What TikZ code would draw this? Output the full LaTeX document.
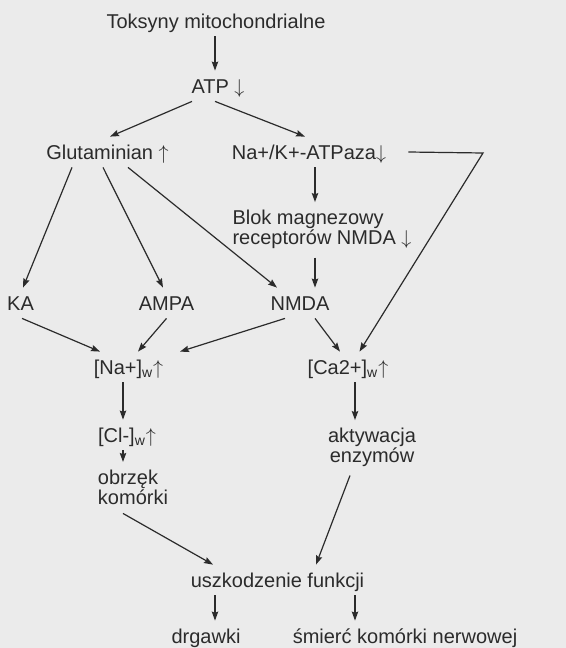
\documentclass[tikz,border=0pt]{standalone}
\usepackage{fontspec}
\setmainfont{Liberation Sans}
\usepackage{tikz}
\usetikzlibrary{arrows.meta}
\definecolor{ink}{HTML}{2B2B2B}
\definecolor{paper}{HTML}{EBEBEB}

\begin{document}
\begin{tikzpicture}[x=0.5pt,y=-0.5pt,font=\fontsize{10}{10}\selectfont,
  lbl/.style={inner xsep=0pt,inner ysep=4pt,text height=7pt,text depth=0pt,anchor=base,text=ink},
  two/.style={inner xsep=0pt,inner ysep=4pt,text=ink},
  arr/.style={draw=ink,line width=0.6pt,-{Stealth[length=4.5pt,width=3.2pt,inset=0.6pt]}}]
  \fill[paper] (0,0) rectangle (566,648);
  \useasboundingbox (0,0) rectangle (566,648);
  \node[lbl] (tox) at (216,28) {Toksyny mitochondrialne};
  \node[lbl] (atp) at (218,93) {ATP $\downarrow$};
  \node[lbl] (glu) at (107.5,159) {Glutaminian $\uparrow$};
  \node[lbl] (nak) at (309,159) {Na+/K+-ATPaza$\downarrow$};
  \node[two,align=left] (blok) at (322,229.8) {Blok magnezowy\\receptorów NMDA $\downarrow$};
  \foreach \n/\t/\x in {ka/KA/20.5,ampa/AMPA/166.5,nmda/NMDA/300}
    \node[lbl] (\n) at (\x,310) {\t};
  \node[lbl] (na) at (128.5,374) {[Na+]\textsubscript{w}$\uparrow$};
  \node[lbl] (ca) at (348,374) {[Ca2+]\textsubscript{w}$\uparrow$};
  \node[lbl] (cl) at (127,442) {[Cl-]\textsubscript{w}$\uparrow$};
  \node[two,align=center] (akt) at (372,447.8) {aktywacja\\enzymów};
  \node[two,align=left] (obrz) at (133,487.7) {obrzęk\\komórki};
  \node[lbl] (uszk) at (277.5,587) {uszkodzenie funkcji};
  \node[lbl] (drg) at (206,643) {drgawki};
  \node[lbl] (smierc) at (405,643) {śmierć komórki nerwowej};
  \coordinate (bend) at (483,153);

  \draw[arr] ([xshift=-0.5pt]tox.south) -- ([xshift=-1.5pt]atp.north);
  \draw[arr] ([xshift=-13pt]atp.south) -- ([xshift=1.25pt]glu.north);
  \draw[arr] ([xshift=-1.5pt]atp.south) -- ([xshift=-2pt]nak.north);
  \draw[arr] ([xshift=3pt]nak.south) -- ([xshift=-3.5pt]blok.north);
  \draw[arr] ([xshift=-3.5pt]blok.south) -- ([xshift=7.5pt]nmda.north);
  \draw[arr] ([xshift=-17.75pt]glu.south) -- ([xshift=1.25pt]ka.north);
  \draw[arr] ([xshift=-2.25pt]glu.south) -- ([xshift=-1.75pt]ampa.north);
  \draw[arr] ([xshift=10.25pt]glu.south) -- ([xshift=-11.5pt]nmda.north);
  \draw[arr] ([xshift=0.75pt]ka.south) -- ([xshift=-14.25pt]na.north);
  \draw[arr] (ampa.south) -- ([xshift=4.75pt]na.north);
  \draw[arr] ([xshift=-7.5pt]nmda.south) -- ([xshift=25.75pt]na.north);
  \draw[arr] ([xshift=7.5pt]nmda.south) -- ([xshift=-4pt]ca.north);
  \draw[arr] ([xshift=11pt]nak.east) -- (bend) -- ([xshift=5.75pt]ca.north);
  \draw[arr] ([xshift=-2.75pt]na.south) -- ([xshift=-2pt]cl.north);
  \draw[arr] ([xshift=3.5pt]ca.south) -- ([xshift=-8.5pt]akt.north);
  \draw[arr] ([xshift=-2pt]cl.south) -- ([xshift=-5pt]obrz.north);
  \draw[arr] ([xshift=-5pt]obrz.south) -- ([xshift=-32.25pt]uszk.north);
  \draw[arr] ([xshift=-11pt]akt.south) -- ([xshift=19.25pt]uszk.north);
  \draw[arr] ([xshift=-31.25pt]uszk.south) -- ([xshift=4.5pt]drg.north);
  \draw[arr] ([xshift=38.75pt]uszk.south) -- ([xshift=-25pt]smierc.north);
\end{tikzpicture}
\end{document}
